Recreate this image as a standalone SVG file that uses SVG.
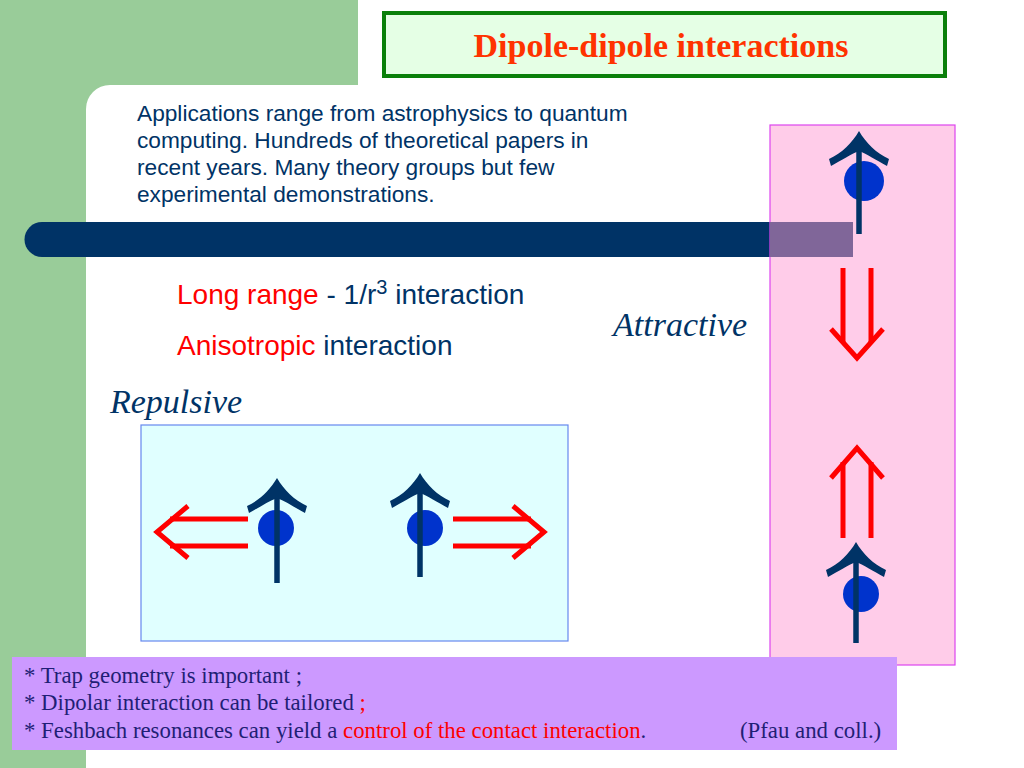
<svg xmlns="http://www.w3.org/2000/svg" xmlns:xlink="http://www.w3.org/1999/xlink" width="1024" height="768" viewBox="0 0 1024 768">
<style>
.sans{font-family:"Liberation Sans",Arial,sans-serif}
.serif{font-family:"Liberation Serif","Times New Roman",serif}
.navy{fill:#003366}
.red{fill:#ff0000}
.shaft{stroke:#003366;stroke-width:5.5;fill:none}
.ball{fill:#0033cc}
.head{fill:#003366}
.rarrow{stroke:#ff0000;stroke-width:5;fill:none}
.btxt{fill:#1f1f75}
</style>
<defs>
<path id="head" d="M0,0 C7,12 17,22 30,28 L28,35 C17,29 8,23 0,20 C-8,23 -17,29 -28,35 L-30,28 C-17,22 -7,12 0,0 Z"/>
</defs>
<rect width="1024" height="768" fill="#ffffff"/>
<g id="background">
<rect x="0" y="0" width="358" height="120" fill="#99cc99"/>
<rect x="0" y="0" width="120" height="768" fill="#99cc99"/>
<rect x="86" y="85" width="1000" height="1000" rx="24" fill="#ffffff"/>
</g>
<g id="title">
<rect x="384" y="13" width="561" height="63" fill="#e5ffe5" stroke="#0a800a" stroke-width="4"/>
<text x="661" y="57" text-anchor="middle" class="serif" font-weight="bold" font-size="34" fill="#ff3300">Dipole-dipole interactions</text>
</g>
<g id="intro" class="sans navy" font-size="22.7">
<text x="137" y="121">Applications range from astrophysics to quantum</text>
<text x="137" y="148">computing. Hundreds of theoretical papers in</text>
<text x="137" y="175">recent years. Many theory groups but few</text>
<text x="137" y="202">experimental demonstrations.</text>
</g>
<path id="bar" d="M42,222 H770 V257 H42 A17.5,17.5 0 0 1 42,222 Z" fill="#003366"/>
<g id="properties" class="sans" font-size="28">
<text x="177" y="304"><tspan class="red">Long range</tspan><tspan class="navy"> - 1/r</tspan><tspan class="navy" font-size="20" dy="-10">3</tspan><tspan class="navy" dy="10"> interaction</tspan></text>
<text x="177" y="355"><tspan class="red">Anisotropic</tspan><tspan class="navy"> interaction</tspan></text>
</g>
<text id="attractive-label" x="613" y="336" class="serif navy" font-style="italic" font-size="34">Attractive</text>
<text id="repulsive-label" x="110" y="413" class="serif navy" font-style="italic" font-size="34">Repulsive</text>
<g id="repulsive-box">
<rect x="141" y="425" width="427" height="216" fill="#e0ffff" stroke="#6688ee" stroke-width="1.2"/>
<g id="dipole-left">
<circle cx="276" cy="528" r="18" class="ball"/>
<line x1="277" y1="490" x2="277" y2="583" class="shaft"/>
<use xlink:href="#head" href="#head" x="277" y="478" class="head"/>
</g>
<g id="dipole-right">
<circle cx="425" cy="528" r="18" class="ball"/>
<line x1="420" y1="485" x2="420" y2="577" class="shaft"/>
<use xlink:href="#head" href="#head" x="420" y="473" class="head"/>
</g>
<g id="force-left" class="rarrow">
<path d="M248,519 H170 M248,546 H170"/>
<path d="M188,506 L157,532 L188,558"/>
</g>
<g id="force-right" class="rarrow">
<path d="M453,519 H531 M453,546 H531"/>
<path d="M513,506 L544,532 L513,558"/>
</g>
</g>
<g id="attractive-box">
<rect x="770" y="125" width="185" height="540" fill="#ffcce9" stroke="#dd44ee" stroke-width="1.2"/>
<rect x="770" y="222" width="83" height="35" fill="#806699"/>
<g id="dipole-top">
<circle cx="864" cy="181" r="20" class="ball"/>
<line x1="859" y1="143" x2="859" y2="234" class="shaft"/>
<use xlink:href="#head" href="#head" x="859" y="131" class="head"/>
</g>
<g id="force-down" class="rarrow">
<path d="M843,268 V343 M871,268 V343"/>
<path d="M831,329 L857,358 L883,329"/>
</g>
<g id="force-up" class="rarrow">
<path d="M843,462 V538 M871,462 V538"/>
<path d="M831,478 L857,448 L883,478"/>
</g>
<g id="dipole-bottom">
<circle cx="861" cy="594" r="18" class="ball"/>
<line x1="856" y1="554" x2="856" y2="643" class="shaft"/>
<use xlink:href="#head" href="#head" x="856" y="542" class="head"/>
</g>
</g>
<g id="notes">
<rect x="12" y="657" width="885" height="93" fill="#cc99ff"/>
<g class="serif" font-size="22.8">
<text x="24" y="683" class="btxt">* Trap geometry is important ;</text>
<text x="24" y="710"><tspan class="btxt">* Dipolar interaction can be tailored </tspan><tspan class="red">;</tspan></text>
<text x="24" y="738"><tspan class="btxt">* Feshbach resonances can yield a </tspan><tspan class="red">control of the contact interaction</tspan><tspan class="btxt">.</tspan></text>
<text x="740" y="738" class="btxt">(Pfau and coll.)</text>
</g>
</g>
</svg>
